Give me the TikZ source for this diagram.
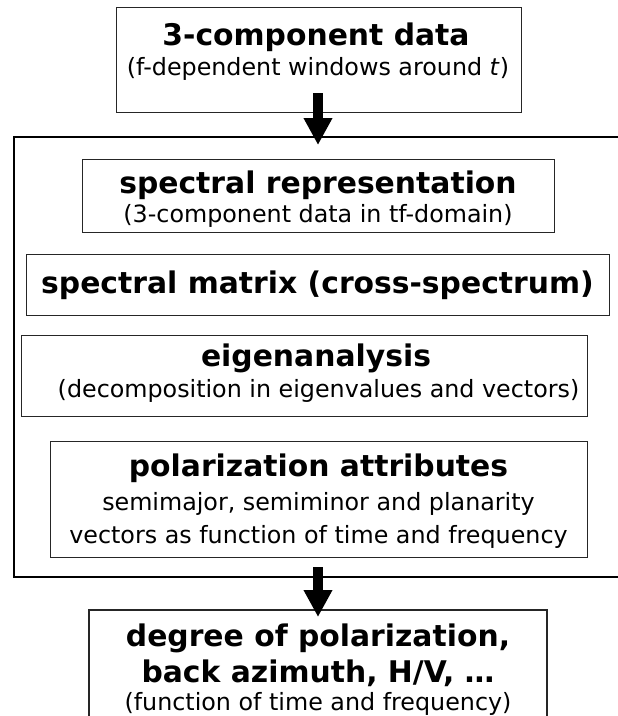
\documentclass[tikz,border=0pt]{standalone}
\usepackage{fontspec}
\setmainfont{DejaVu Sans}
\usetikzlibrary{arrows.meta}
\begin{document}
\begin{tikzpicture}[x=1pt,y=-1pt,
  box/.style={draw=black!85, line width=1.4pt, inner sep=0pt, anchor=north west},
  ttl/.style={font=\fontsize{29.8}{34}\selectfont\bfseries, inner sep=0pt, anchor=base},
  sub/.style={font=\fontsize{23.8}{28}\selectfont, inner sep=0pt, anchor=base},
  bigarrow/.style={line width=10pt, -{Triangle[width=27pt,length=27pt]}}]
\useasboundingbox (0,0) rectangle (618,716);
% top box
\node[box, minimum width=405pt, minimum height=105pt] (top) at (116,7) {};
\node[ttl] (t1) at (316,45) {3-component data};
\node[sub] (t2) at (318,75) {(f-dependent windows around \textit{t})};
% frame (open on the right)
\coordinate (ftr) at (618,137);
\coordinate (ftl) at (14,137);
\coordinate (fbl) at (14,577);
\coordinate (fbr) at (618,577);
\draw[black, line width=1.4pt] (ftr) -- (ftl) -- (fbl) -- (fbr);
% spectral representation
\node[box, minimum width=472pt, minimum height=73pt] (spec) at (82,159) {};
\node[ttl] (s1) at (318,193) {spectral representation};
\node[sub] (s2) at (318,222) {(3-component data in tf-domain)};
% spectral matrix
\node[box, minimum width=583pt, minimum height=61pt] (mat) at (26,254) {};
\node[ttl] (m1) at (317.5,293) {spectral matrix (cross-spectrum)};
% eigenanalysis
\node[box, minimum width=566pt, minimum height=81pt] (eig) at (21,335) {};
\node[ttl] (e1) at (316,366) {eigenanalysis};
\node[sub] (e2) at (318.5,397) {(decomposition in eigenvalues and vectors)};
% polarization attributes
\node[box, minimum width=537pt, minimum height=116pt] (pol) at (50,441) {};
\node[ttl] (p1) at (318.5,476) {polarization attributes};
\node[sub] (p2) at (318.5,510) {semimajor, semiminor and planarity};
\node[sub] (p3) at (318.5,543) {vectors as function of time and frequency};
% bottom box (open at the bottom)
\coordinate (bbl) at (89,720);
\coordinate (btl) at (89,610);
\coordinate (btr) at (547,610);
\coordinate (bbr) at (547,720);
\draw[black!85, line width=1.4pt] (bbl) -- (btl) -- (btr) -- (bbr);
\node[ttl] (d1) at (318,646) {degree of polarization,};
\node[ttl] (d2) at (318,682) {back azimuth, H/V, …};
\node[sub] (d3) at (318,710) {(function of time and frequency)};
% arrows
\coordinate (a1s) at (318,93);
\coordinate (a1e) at (318,145);
\coordinate (a2s) at (318,567);
\coordinate (a2e) at (318,617);
\draw[bigarrow] (a1s) -- (a1e);
\draw[bigarrow] (a2s) -- (a2e);
\end{tikzpicture}
\end{document}
